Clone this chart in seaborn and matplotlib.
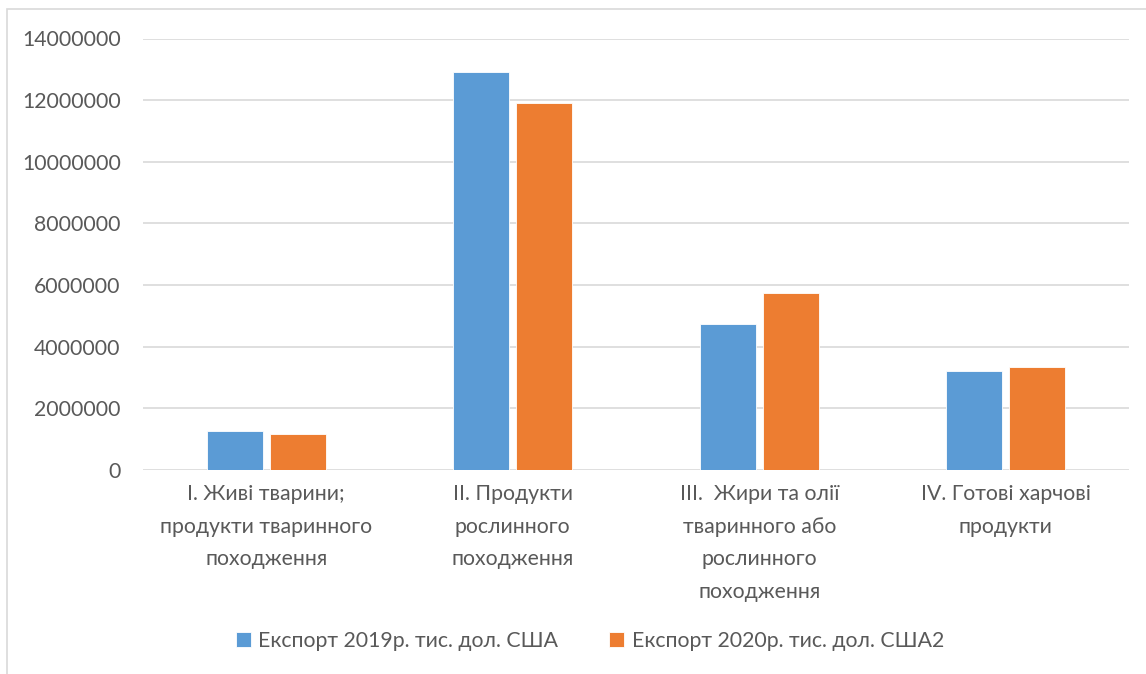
import numpy as np
import pandas as pd
import seaborn as sns
import matplotlib.pyplot as plt
from matplotlib.patches import Rectangle

categories = ["I. Живі тварини;\nпродукти тваринного\nпоходження",
              "II. Продукти\nрослинного\nпоходження",
              "III.  Жири та олії\nтваринного або\nрослинного\nпоходження",
              "IV. Готові харчові\nпродукти"]
series = ["Експорт 2019р. тис. дол. США", "Експорт 2020р. тис. дол. США2"]
export_2019 = [1265000, 12920000, 4730000, 3210000]
export_2020 = [1170000, 11900000, 5730000, 3350000]

d = pd.DataFrame({
    "cat": categories * 2,
    "series": [series[0]] * 4 + [series[1]] * 4,
    "value": export_2019 + export_2020,
})

sns.set_style("white")
plt.rcParams['font.family'] = ['Lato', 'DejaVu Sans']
txt = "#595959"
fs = 15.3

fig = plt.figure(figsize=(11.46, 6.74), dpi=100)
ax = fig.add_axes([143 / 1146, 1 - 470 / 674, (1129 - 143) / 1146, (470 - 38.5) / 674])

sns.barplot(data=d, x="cat", y="value", hue="series", order=categories, hue_order=series,
            palette=["#5B9BD5", "#ED7D31"], width=0.51, gap=0.11, saturation=1,
            edgecolor="white", linewidth=0.6, ax=ax, legend=True)

ax.set_ylim(0, 14000000)
ax.set_yticks(np.arange(0, 14000001, 2000000))
ax.set_yticklabels([str(v) for v in range(0, 14000001, 2000000)])
ax.yaxis.grid(True, color="#D9D9D9", lw=1.2)
ax.set_axisbelow(True)
for s in ax.spines.values():
    s.set_visible(False)
ax.tick_params(axis="y", length=0, pad=16, labelsize=fs, labelcolor=txt)
ax.tick_params(axis="x", length=0, pad=10, labelsize=fs, labelcolor=txt)
for lab in ax.get_xticklabels():
    lab.set_linespacing(1.8)
    lab.set_verticalalignment("top")
ax.set_xlabel("")
ax.set_ylabel("")

h, l = ax.get_legend_handles_labels()
ax.get_legend().remove()
fig.legend(h, l, loc="center", bbox_to_anchor=(590 / 1146, 1 - 641 / 674), ncol=2,
           frameon=False, fontsize=fs, labelcolor=txt, handlelength=0.7, handleheight=0.7,
           handletextpad=0.35, columnspacing=2.4)

fig.patches.append(Rectangle((7 / 1146, -0.1), 1.2, 1 - 9 / 674 + 0.1, transform=fig.transFigure,
                             fill=False, edgecolor="#D9D9D9", lw=1.2))

fig.savefig("out.png", dpi=100)
